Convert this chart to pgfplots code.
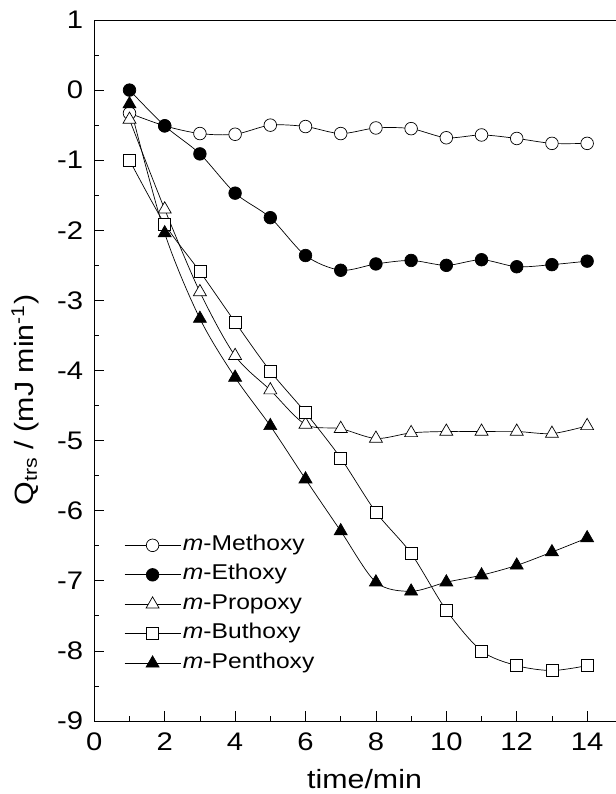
\documentclass[border=0pt]{standalone}
\usepackage{fontspec}
\setmainfont{Liberation Sans}[FakeStretch=1.15]
\usepackage{pgfplots}
\pgfplotsset{compat=1.18}

\begin{document}
\begin{tikzpicture}
\begin{axis}[
  at={(0,0)}, anchor=south west,
  scale only axis,
  width=521.7bp, height=701bp,
  xmin=0, xmax=14.82, ymin=-9, ymax=1,
  separate axis lines,
  axis x line*=box, axis y line*=left,
  axis line style={line width=0.9bp, black},
  xtick={0,2,...,14}, minor xtick={1,3,...,13},
  xticklabels={0,2,4,6,8,10,12,14},
  ytick={-9,-8,...,1}, minor ytick={-8.5,-7.5,...,0.5},
  yticklabels={-9,-8,-7,-6,-5,-4,-3,-2,-1,0,1},
  tick align=inside,
  major tick length=10bp, minor tick length=5bp,
  tick style={line width=0.8bp, black},
  xtick pos=left, ytick pos=left,
  ticklabel style={font=\fontsize{25.5}{30}\selectfont},
  xticklabel style={inner sep=0pt, yshift=-12bp},
  yticklabel style={inner sep=0pt, xshift=-11bp},
  xlabel={time/min},
  ylabel={Q\textsubscript{trs} / (mJ min\textsuperscript{-1})},
  label style={font=\fontsize{26.5}{31}\selectfont},
  xlabel style={at={(axis description cs:0.518,-0.0970)}, anchor=base, inner sep=0pt},
  ylabel style={at={(axis description cs:-0.133,0.458)}, anchor=center, rotate=0},
  every axis plot/.append style={black, line width=0.7bp, smooth},
  legend style={at={(axis description cs:0.057,0.268)}, anchor=north west,
    draw=none, fill=none, inner sep=0pt, font=\fontsize{21.5}{25}\selectfont,
    row sep=5.5bp,
    nodes={inner sep=2bp, text height=15bp, text depth=5bp}},
  legend cell align=left,
  legend image code/.code={
    \draw[#1, sharp plot, mark repeat=2, mark phase=2]
      plot coordinates {(0bp,0bp) (28bp,0bp) (56bp,0bp)};},
]
\addplot[mark=*, mark size=6.3bp, mark options={fill=white, line width=0.7bp}] coordinates {
  (1,-0.33) (2,-0.51) (3,-0.62) (4,-0.63) (5,-0.50) (6,-0.52) (7,-0.62)
  (8,-0.54) (9,-0.55) (10,-0.68) (11,-0.64) (12,-0.69) (13,-0.76) (14,-0.76)
};
\addlegendentry{\textit{m}-Methoxy}
\addplot[mark=*, mark size=6.3bp, mark options={fill=black}] coordinates {
  (1,0.00) (2,-0.51) (3,-0.91) (4,-1.47) (5,-1.82) (6,-2.36) (7,-2.57)
  (8,-2.48) (9,-2.43) (10,-2.50) (11,-2.42) (12,-2.52) (13,-2.49) (14,-2.44)
};
\addlegendentry{\textit{m}-Ethoxy}
\addplot[mark=triangle*, mark size=7.5bp, mark options={fill=white, line width=0.7bp}] coordinates {
  (1,-0.42) (2,-1.70) (3,-2.88) (4,-3.79) (5,-4.28) (6,-4.77) (7,-4.83)
  (8,-4.97) (9,-4.89) (10,-4.87) (11,-4.87) (12,-4.87) (13,-4.90) (14,-4.79)
};
\addlegendentry{\textit{m}-Propoxy}
\addplot[mark=square*, mark size=6bp, mark options={fill=white, line width=0.7bp}] coordinates {
  (1,-1.00) (2,-1.91) (3,-2.59) (4,-3.31) (5,-4.01) (6,-4.60) (7,-5.25)
  (8,-6.02) (9,-6.61) (10,-7.42) (11,-8.00) (12,-8.21) (13,-8.28) (14,-8.21)
};
\addlegendentry{\textit{m}-Buthoxy}
\addplot[mark=triangle*, mark size=7.5bp, mark options={fill=black}] coordinates {
  (1,-0.20) (2,-2.04) (3,-3.26) (4,-4.10) (5,-4.79) (6,-5.55) (7,-6.29)
  (8,-7.02) (9,-7.15) (10,-7.02) (11,-6.92) (12,-6.78) (13,-6.59) (14,-6.39)
};
\addlegendentry{\textit{m}-Penthoxy}
\end{axis}
\pgfresetboundingbox
\path (-94.3bp,-73bp) rectangle (521.7bp,721bp);
\end{tikzpicture}
\end{document}
